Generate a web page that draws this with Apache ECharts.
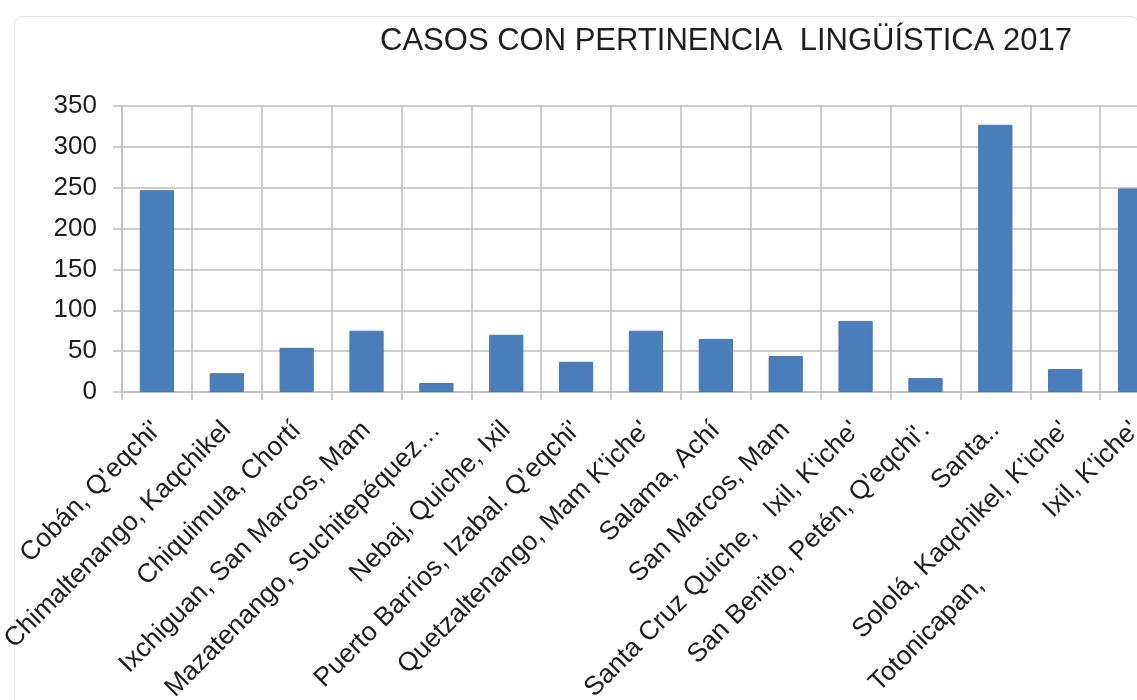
<!DOCTYPE html>
<html>
<head>
<meta charset="utf-8">
<title>Casos con pertinencia lingüística 2017</title>
<script src="https://cdn.jsdelivr.net/npm/echarts@6/dist/echarts.min.js"></script>
<style>
  html, body { margin: 0; padding: 0; background: #ffffff; }
  #chart { width: 1137px; height: 700px; }
</style>
</head>
<body>
<div id="chart"></div>
<script>
// Sedes y comunidades lingüísticas atendidas
const categories = [
  "Cobán, Q'eqchi'",
  "Chimaltenango, Kaqchikel",
  "Chiquimula, Chortí",
  "Ixchiguan, San Marcos, Mam",
  "Mazatenango, Suchitepéquez…",
  "Nebaj, Quiche, Ixil",
  "Puerto Barrios, Izabal. Q'eqchi'",
  "Quetzaltenango, Mam K'iche'",
  "Salama, Achí",
  "San Marcos, Mam",
  "Santa Cruz Quiche,   Ixil, K'iche'",
  "San Benito, Petén, Q'eqchi'.",
  "Santa..",
  "Sololá, Kaqchikel, K'iche'",
  "Totonicapan,             Ixil, K'iche'"
];

// Número de casos por sede
const casos = [247, 23, 54, 75, 11, 70, 37, 75, 65, 44, 87, 17, 327, 28, 249];

// Escala del eje vertical
const yMin = 0;
const yMax = 350;
const yStep = 50;

const titleText = "CASOS CON PERTINENCIA  LINGÜÍSTICA 2017";

const gridColor = '#bdbdbd';
const textColor = '#1e1e1e';
const font = 'Liberation Sans, Arial, sans-serif';

const chart = echarts.init(document.getElementById('chart'), null, { renderer: 'canvas' });

chart.setOption({
  backgroundColor: '#ffffff',
  animation: false,
  graphic: [{
    type: 'rect',
    left: 12, top: 14,
    shape: { width: 1124, height: 700, r: 8 },
    style: { fill: 'none', stroke: '#e4e4e4', lineWidth: 1.2 },
    silent: true, z: -1
  }],
  title: {
    text: titleText,
    left: 721,
    textAlign: 'center',
    top: 21,
    textStyle: {
      fontFamily: font,
      fontSize: 31,
      fontWeight: 'normal',
      color: textColor
    }
  },
  grid: {
    left: 122,
    top: 106,
    width: 1048,
    height: 286,
    containLabel: false,
    outerBoundsMode: 'none'
  },
  xAxis: {
    type: 'category',
    data: categories,
    boundaryGap: true,
    axisLine: { show: true, lineStyle: { color: gridColor, width: 1.5 } },
    axisTick: { show: true, length: 8, lineStyle: { color: gridColor, width: 1.5 } },
    splitLine: { show: true, lineStyle: { color: gridColor, width: 1.5 } },
    axisLabel: {
      interval: 0,
      rotate: 45,
      margin: 34,
      fontFamily: font,
      fontSize: 26.5,
      color: textColor
    }
  },
  yAxis: {
    type: 'value',
    min: yMin,
    max: yMax,
    interval: yStep,
    axisLine: { show: true, lineStyle: { color: gridColor, width: 1.5 } },
    axisTick: { show: true, length: 9, lineStyle: { color: gridColor, width: 1.5 } },
    splitLine: { show: true, lineStyle: { color: gridColor, width: 1.5 } },
    axisLabel: {
      margin: 25,
      fontFamily: font,
      fontSize: 26,
      color: textColor
    }
  },
  series: [{
    type: 'bar',
    data: casos,
    barWidth: '49%',
    itemStyle: { color: '#4a7ebb', borderColor: '#4477b3', borderWidth: 1 }
  }]
});
</script>
</body>
</html>
